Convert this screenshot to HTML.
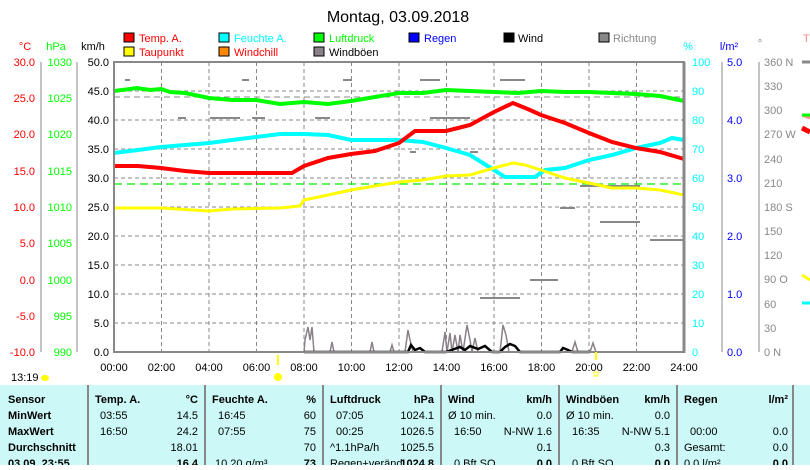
<!DOCTYPE html>
<html><head><meta charset="utf-8"><style>
body{margin:0;background:#fff;width:810px;height:465px;overflow:hidden;font-family:"Liberation Sans",sans-serif}
svg text{font-family:"Liberation Sans",sans-serif}
</style></head><body>
<svg width="810" height="465" xmlns="http://www.w3.org/2000/svg">
<rect width="810" height="465" fill="#fff"/>
<text x="398" y="22" font-size="16" text-anchor="middle" fill="#000">Montag, 03.09.2018</text>
<!-- legend -->
<g font-size="11">
<rect x="124" y="33" width="10" height="9" fill="#f00" stroke="#000"/><text x="139" y="42" fill="#f00">Temp. A.</text>
<rect x="124" y="47" width="10" height="9" fill="#ff0" stroke="#000"/><text x="139" y="56" fill="#f00">Taupunkt</text>
<rect x="219" y="33" width="10" height="9" fill="#0ff" stroke="#000"/><text x="234" y="42" fill="#0ff">Feuchte A.</text>
<rect x="219" y="47" width="10" height="9" fill="#f80" stroke="#000"/><text x="234" y="56" fill="#f00">Windchill</text>
<rect x="314" y="33" width="10" height="9" fill="#0f0" stroke="#000"/><text x="329" y="42" fill="#0f0">Luftdruck</text>
<rect x="314" y="47" width="10" height="9" fill="#8a8088" stroke="#000"/><text x="329" y="56" fill="#000">Windböen</text>
<rect x="409" y="33" width="10" height="9" fill="#00f" stroke="#000"/><text x="424" y="42" fill="#00f">Regen</text>
<rect x="504" y="33" width="10" height="9" fill="#000" stroke="#000"/><text x="518" y="42" fill="#000">Wind</text>
<rect x="599" y="33" width="10" height="9" fill="#888" stroke="#000"/><text x="613" y="42" fill="#888">Richtung</text>
</g>
<!-- axis titles -->
<g font-size="11">
<text x="25" y="50" fill="#f00" text-anchor="middle">°C</text>
<text x="56" y="50" fill="#0f0" text-anchor="middle">hPa</text>
<text x="93" y="50" fill="#000" text-anchor="middle">km/h</text>
<text x="688" y="50" fill="#0ff" text-anchor="middle">%</text>
<text x="729" y="50" fill="#00f" text-anchor="middle">l/m²</text>
<text x="760" y="47" fill="#888" text-anchor="middle">°</text>
<text x="803" y="42" fill="#f88">T</text>
</g>
<!-- grid -->
<g stroke="#888" stroke-dasharray="4,3" stroke-width="1">
<line x1="161.5" y1="62" x2="161.5" y2="352"/><line x1="209" y1="62" x2="209" y2="352"/><line x1="256.5" y1="62" x2="256.5" y2="352"/><line x1="304" y1="62" x2="304" y2="352"/><line x1="351.5" y1="62" x2="351.5" y2="352"/><line x1="399" y1="62" x2="399" y2="352"/><line x1="446.5" y1="62" x2="446.5" y2="352"/><line x1="494" y1="62" x2="494" y2="352"/><line x1="541.5" y1="62" x2="541.5" y2="352"/><line x1="589" y1="62" x2="589" y2="352"/><line x1="636.5" y1="62" x2="636.5" y2="352"/>
<line x1="114" y1="91" x2="684" y2="91"/><line x1="114" y1="120" x2="684" y2="120"/><line x1="114" y1="149" x2="684" y2="149"/><line x1="114" y1="178" x2="684" y2="178"/><line x1="114" y1="207" x2="684" y2="207"/><line x1="114" y1="236" x2="684" y2="236"/><line x1="114" y1="265" x2="684" y2="265"/><line x1="114" y1="294" x2="684" y2="294"/><line x1="114" y1="323" x2="684" y2="323"/>
</g>
<line x1="114" y1="97" x2="684" y2="97" stroke="#888" stroke-dasharray="6,4"/>
<line x1="114" y1="184" x2="684" y2="184" stroke="#0e0" stroke-dasharray="8,5" stroke-width="1.2"/>
<!-- direction dashes -->
<g stroke="#888" stroke-width="2">
<line x1="125" y1="80" x2="130" y2="80"/><line x1="242" y1="80" x2="249" y2="80"/><line x1="343" y1="80" x2="352" y2="80"/><line x1="420" y1="80" x2="440" y2="80"/><line x1="500" y1="80" x2="525" y2="80"/>
<line x1="178" y1="118" x2="186" y2="118"/><line x1="210" y1="118" x2="240" y2="118"/><line x1="252" y1="118" x2="265" y2="118"/><line x1="315" y1="118" x2="330" y2="118"/><line x1="430" y1="118" x2="470" y2="118"/>
<line x1="410" y1="152" x2="416" y2="152"/><line x1="470" y1="152" x2="478" y2="152"/><line x1="560" y1="208" x2="575" y2="208"/><line x1="600" y1="222" x2="640" y2="222"/><line x1="650" y1="240" x2="683" y2="240"/><line x1="530" y1="280" x2="558" y2="280"/><line x1="480" y1="298" x2="520" y2="298"/><line x1="580" y1="186" x2="640" y2="186"/>
</g>
<!-- series -->
<polyline fill="none" stroke="#0f0" stroke-width="4" points="114,91 130,89 137,88 150,90 161,89 170,92 185,93 209,98 232,100 256,100 280,104 304,102 328,104 351,101 375,97 399,93 423,93 446,90 470,91 494,92 518,93 541,91 565,92 589,92 612,93 636,94 660,96 684,101"/>
<polyline fill="none" stroke="#0ff" stroke-width="4" points="114,153 138,150 161,147 185,145 209,143 232,140 256,137 280,134 304,134 328,135 351,140 399,140 423,142 446,148 470,155 494,170 505,177 535,177 545,170 565,168 589,160 612,155 636,148 660,143 672,138 684,140"/>
<polyline fill="none" stroke="#ff0" stroke-width="3" points="114,208 161,208 209,211 232,209 280,208 300,206 304,200 328,195 351,190 375,186 399,182 423,180 446,176 470,175 494,168 513,163 525,165 541,170 565,178 589,183 612,188 636,188 660,190 684,195"/>
<polyline fill="none" stroke="#f00" stroke-width="4" points="114,166 138,166 161,168 185,171 209,173 292,173 304,166 328,158 351,154 375,151 399,143 415,131 446,131 458,128 470,125 494,112 513,103 530,110 541,115 565,123 589,133 612,142 636,148 660,152 684,159"/>
<!-- gusts -->
<polyline fill="none" stroke="#8a8088" stroke-width="1.5" points="304,352 305,340 308,327 310,340 312,327 314,352 330,352 332,342 334,352 370,352 372,342 374,352 390,352 392,345 394,352 405,352 408,330 410,340 413,352 442,352 445,332 447,352 450,333 452,352 455,335 458,352 460,335 463,352 467,325 470,340 472,352 475,338 478,352 500,352 503,325 506,335 509,352 572,352 575,342 578,352 590,352 593,343 596,352"/>
<polyline fill="none" stroke="#000" stroke-width="2.5" points="304,352 330,352 408,352 411,345 415,350 420,348 425,352 446,352 460,347 465,350 470,346 478,349 485,346 492,352 500,352 505,347 510,344 515,346 520,352 560,352 563,348 568,350 572,352 590,352"/>
<line x1="114" y1="352" x2="684" y2="352" stroke="#00c" stroke-width="1.5"/>
<!-- frame -->
<rect x="114" y="62" width="570" height="290" fill="none" stroke="#888" stroke-width="2"/>
<line x1="684" y1="62" x2="684" y2="353" stroke="#888" stroke-width="3"/>
<!-- left axes -->
<g stroke="#888"><line x1="41" y1="62" x2="41" y2="352"/><line x1="77" y1="62" x2="77" y2="352"/><line x1="722" y1="62" x2="722" y2="352"/><line x1="759" y1="62" x2="759" y2="352"/></g>
<g font-size="11" text-anchor="end">
<g fill="#f00"><text x="35" y="66">30.0</text><text x="35" y="102">25.0</text><text x="35" y="138">20.0</text><text x="35" y="175">15.0</text><text x="35" y="211">10.0</text><text x="35" y="247">5.0</text><text x="35" y="284">0.0</text><text x="35" y="320">-5.0</text><text x="35" y="356">-10.0</text></g>
<g fill="#0f0"><text x="72" y="66">1030</text><text x="72" y="102">1025</text><text x="72" y="138">1020</text><text x="72" y="175">1015</text><text x="72" y="211">1010</text><text x="72" y="247">1005</text><text x="72" y="284">1000</text><text x="72" y="320">995</text><text x="72" y="356">990</text></g>
<g fill="#000"><text x="109" y="66">50.0</text><text x="109" y="95">45.0</text><text x="109" y="124">40.0</text><text x="109" y="153">35.0</text><text x="109" y="182">30.0</text><text x="109" y="211">25.0</text><text x="109" y="240">20.0</text><text x="109" y="269">15.0</text><text x="109" y="298">10.0</text><text x="109" y="327">5.0</text><text x="109" y="356">0.0</text></g>
</g>
<g font-size="11">
<g fill="#0ff"><text x="692" y="66">100</text><text x="692" y="95">90</text><text x="692" y="124">80</text><text x="692" y="153">70</text><text x="692" y="182">60</text><text x="692" y="211">50</text><text x="692" y="240">40</text><text x="692" y="269">30</text><text x="692" y="298">20</text><text x="692" y="327">10</text><text x="692" y="356">0</text></g>
<g fill="#00f"><text x="727" y="66">5.0</text><text x="727" y="124">4.0</text><text x="727" y="182">3.0</text><text x="727" y="240">2.0</text><text x="727" y="298">1.0</text><text x="727" y="356">0.0</text></g>
<g fill="#888"><text x="764" y="66">360 N</text><text x="764" y="90">330</text><text x="764" y="114">300</text><text x="764" y="138">270 W</text><text x="764" y="163">240</text><text x="764" y="187">210</text><text x="764" y="211">180 S</text><text x="764" y="235">150</text><text x="764" y="259">120</text><text x="764" y="283">90  O</text><text x="764" y="308">60</text><text x="764" y="332">30</text><text x="764" y="356">0   N</text></g>
</g>
<g stroke-width="3" fill="none"><path d="M802,62 L810,62" stroke="#888"/><path d="M802,115 L810,118" stroke="#f88"/><path d="M802,128 L810,132" stroke="#f00" stroke-width="5"/><path d="M802,115 L810,115" stroke="#0f0"/><path d="M802,275 L810,280" stroke="#ff0"/><path d="M802,303 L810,303" stroke="#0ff"/></g>
<!-- x labels -->
<g font-size="11" text-anchor="middle" fill="#000"><text x="114" y="371">00:00</text><text x="161.5" y="371">02:00</text><text x="209" y="371">04:00</text><text x="256.5" y="371">06:00</text><text x="304" y="371">08:00</text><text x="351.5" y="371">10:00</text><text x="399" y="371">12:00</text><text x="446.5" y="371">14:00</text><text x="494" y="371">16:00</text><text x="541.5" y="371">18:00</text><text x="589" y="371">20:00</text><text x="636.5" y="371">22:00</text><text x="684" y="371">24:00</text></g>
<text x="11" y="381" font-size="11">13:19</text>
<ellipse cx="45" cy="378" rx="4" ry="3" fill="#ff0"/>
<circle cx="278" cy="377" r="4" fill="#ff0"/><line x1="278" y1="355" x2="278" y2="365" stroke="#ff0" stroke-width="2"/>
<line x1="596" y1="352" x2="596" y2="360" stroke="#ff0" stroke-width="2"/><rect x="594" y="372" width="4" height="4" fill="none" stroke="#ff0"/>
<!-- table -->
<rect x="0" y="385" width="810" height="80" fill="#ccf8f8"/>
<g stroke="#888" stroke-width="2"><line x1="88" y1="385" x2="88" y2="465"/><line x1="205" y1="385" x2="205" y2="465"/><line x1="323" y1="385" x2="323" y2="465"/><line x1="441" y1="385" x2="441" y2="465"/><line x1="559" y1="385" x2="559" y2="465"/><line x1="677" y1="385" x2="677" y2="465"/><line x1="793" y1="385" x2="793" y2="465"/></g>
<g font-size="11" fill="#000">
<g font-weight="bold"><text x="8" y="403">Sensor</text><text x="8" y="419">MinWert</text><text x="8" y="435">MaxWert</text><text x="8" y="451">Durchschnitt</text><text x="8" y="467">03.09. 23:55</text>
<text x="95" y="403">Temp. A.</text><text x="212" y="403">Feuchte A.</text><text x="330" y="403">Luftdruck</text><text x="448" y="403">Wind</text><text x="566" y="403">Windböen</text><text x="684" y="403">Regen</text></g>
<g font-weight="bold" text-anchor="end"><text x="198" y="403">°C</text><text x="316" y="403">%</text><text x="434" y="403">hPa</text><text x="552" y="403">km/h</text><text x="670" y="403">km/h</text><text x="788" y="403">l/m²</text>
<text x="198" y="467">16.4</text><text x="316" y="467">73</text><text x="434" y="467">1024.8</text><text x="552" y="467">0.0</text><text x="670" y="467">0.0</text><text x="788" y="467">0.0</text></g>
<text x="100" y="419">03:55</text><text x="100" y="435">16:50</text>
<text x="218" y="419">16:45</text><text x="218" y="435">07:55</text><text x="215" y="467">10.20 g/m³</text>
<text x="336" y="419">07:05</text><text x="336" y="435">00:25</text><text x="330" y="451">^1.1hPa/h</text><text x="330" y="467">Regen+veränd.</text>
<text x="448" y="419">Ø 10 min.</text><text x="454" y="435">16:50</text><text x="454" y="467">0 Bft SO</text>
<text x="566" y="419">Ø 10 min.</text><text x="572" y="435">16:35</text><text x="572" y="467">0 Bft SO</text>
<text x="690" y="435">00:00</text><text x="684" y="451">Gesamt:</text><text x="684" y="467">0.0 l/m²</text>
<g text-anchor="end"><text x="198" y="419">14.5</text><text x="198" y="435">24.2</text><text x="198" y="451">18.01</text>
<text x="316" y="419">60</text><text x="316" y="435">75</text><text x="316" y="451">70</text>
<text x="434" y="419">1024.1</text><text x="434" y="435">1026.5</text><text x="434" y="451">1025.5</text>
<text x="552" y="419">0.0</text><text x="552" y="435">N-NW 1.6</text><text x="552" y="451">0.1</text>
<text x="670" y="419">0.0</text><text x="670" y="435">N-NW 5.1</text><text x="670" y="451">0.3</text>
<text x="788" y="435">0.0</text><text x="788" y="451">0.0</text></g>
</g>
</svg>
</body></html>
